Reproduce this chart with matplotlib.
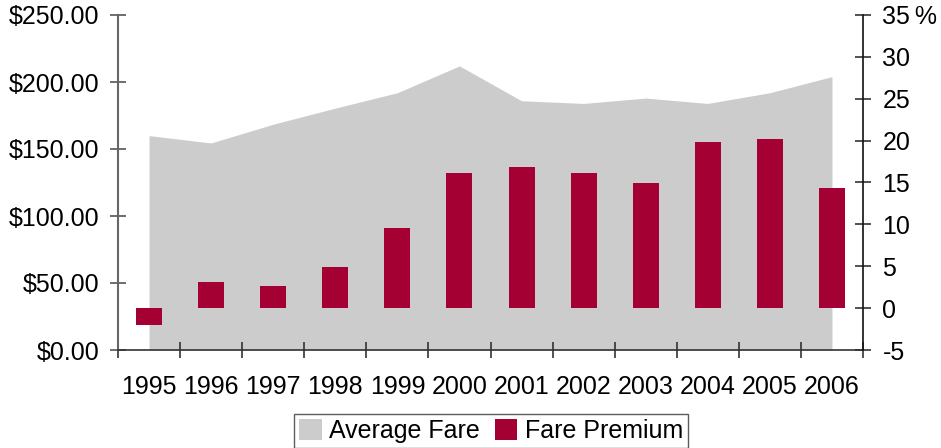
import numpy as np
import matplotlib.pyplot as plt
from matplotlib.ticker import FuncFormatter

plt.rcParams['font.family'] = ['Liberation Sans', 'DejaVu Sans']

# values
years = ["1995", "1996", "1997", "1998", "1999", "2000",
         "2001", "2002", "2003", "2004", "2005", "2006"]
avg_fare = [160, 154.5, 168.5, 180.5, 192, 212, 186, 184, 188, 184, 192, 204]
fare_premium = [-2.0, 3.1, 2.6, 4.9, 9.6, 16.1, 16.8, 16.1, 14.9, 19.8, 20.2, 14.4]

gray = "#cccccc"
crimson = "#a50034"
fs = 18

fig = plt.figure(figsize=(9.41, 4.48), dpi=100)
ax = fig.add_axes([118/941, 1 - 350/448, (863 - 118)/941, 335/448])
ax2 = ax.twinx()

x = np.arange(len(years))
ax.fill_between(x, avg_fare, 0, color=gray, linewidth=0, label="Average Fare")
ax2.bar(x, fare_premium, width=0.42, color=crimson, label="Fare Premium")

ax.set_xlim(-0.5, len(years) - 0.5)
ax.set_ylim(0, 250)
ax2.set_ylim(-5, 35)

ax.set_yticks(np.arange(0, 251, 50))
ax.yaxis.set_major_formatter(FuncFormatter(lambda v, p: "${:,.2f}".format(v)))
ax2.set_yticks(np.arange(-5, 36, 5))
ax2.yaxis.set_major_formatter(
    FuncFormatter(lambda v, p: "{:.0f}\u2009%".format(v) if v == 35 else "{:.0f}".format(v)))

# boundary ticks with no labels, year labels at category centers
ax.set_xticks(np.arange(-0.5, len(years), 1))
ax.set_xticklabels([])
ax.set_xticks(x, minor=True)
ax.set_xticklabels(years, minor=True)
ax.tick_params(axis="x", which="major", direction="inout", length=11, width=1.2, color="#333333")
ax.tick_params(axis="x", which="minor", length=0, pad=18, labelsize=fs)

ax.tick_params(axis="y", direction="inout", length=11, width=1.2, color="#555555",
               labelsize=fs, pad=8)
ax2.tick_params(axis="y", direction="inout", length=11, width=1.2, color="#333333",
                labelsize=fs, pad=8.5)

for a in (ax, ax2):
    a.spines["top"].set_visible(False)
ax.spines["right"].set_visible(False)
ax2.spines["left"].set_visible(False)
ax2.spines["bottom"].set_visible(False)
ax.spines["left"].set_color("#666666")
ax.spines["left"].set_linewidth(1.5)
ax.spines["bottom"].set_color("#333333")
ax.spines["bottom"].set_linewidth(1.2)
ax2.spines["right"].set_color("#111111")
ax2.spines["right"].set_linewidth(1.2)

h1, l1 = ax.get_legend_handles_labels()
h2, l2 = ax2.get_legend_handles_labels()
leg = fig.legend(h1 + h2, l1 + l2, loc="upper center", bbox_to_anchor=(491/941, 1 - 414/448),
                 ncol=2, fontsize=fs, frameon=True, fancybox=False, handlelength=0.9,
                 handleheight=0.9, handletextpad=0.3, columnspacing=0.6,
                 borderpad=0.2, borderaxespad=0)
leg.get_frame().set_edgecolor("#333333")
leg.get_frame().set_linewidth(1.0)

fig.savefig("out.png", dpi=100)
